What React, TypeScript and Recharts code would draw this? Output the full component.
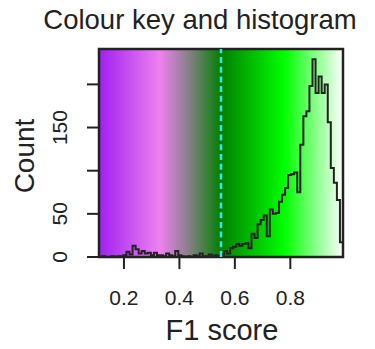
import { ComposedChart, Line, XAxis, YAxis, ReferenceArea, ReferenceLine } from "recharts";

// histogram counts, one per bin
const BIN_START = 0.11;
const BIN_WIDTH = 0.011;
const COUNTS = [
  0, 1, 0, 0, 1, 0, 1, 1, 2, 6,
  3, 13, 9, 4, 7, 4, 5, 2, 5, 2,
  2, 1, 4, 2, 1, 7, 2, 1, 0, 1,
  0, 2, 1, 4, 1, 1, 3, 1, 2, 1,
  3, 7, 4, 10, 12, 15, 13, 15, 16, 10,
  27, 22, 38, 43, 48, 24, 55, 50, 51, 64,
  72, 80, 95, 96, 98, 75, 130, 163, 169, 198,
  229, 190, 209, 190, 200, 156, 103, 86, 66, 17,
];
const X_TICKS = [0.2, 0.4, 0.6, 0.8];
const Y_TICKS = [0, 50, 100, 150, 200];
const Y_LABELLED = [0, 50, 150];
const THRESHOLD = 0.55;
const X_MIN = 0.11;
const X_MAX = 0.99;
const Y_MAX = 241;

// colour key stops (offset along the key, colour)
const KEY_STOPS: [number, string][] = [
  [0, "#A020F0"],
  [0.25, "#EE82EE"],
  [0.375, "#808080"],
  [0.5, "#008000"],
  [0.76, "#00FF00"],
  [1, "#FFFFFF"],
];

const FONT = "'Liberation Sans', Arial, sans-serif";
const INK = "#222";

const data = COUNTS.map((c, i) => ({ x: +(BIN_START + i * BIN_WIDTH).toFixed(4), count: c }));
data.push({ x: X_MAX, count: COUNTS[COUNTS.length - 1] });

const XTick = ({ x, payload }: any) => (
  <text x={x} y={305} textAnchor="middle" fontSize={21} fontFamily={FONT} fill={INK}>
    {payload.value}
  </text>
);

const YTick = ({ y, payload }: any) => {
  if (!Y_LABELLED.includes(payload.value)) return null;
  return (
    <text
      x={67}
      y={y}
      transform={`rotate(-90, 67, ${y})`}
      textAnchor="middle"
      fontSize={21}
      fontFamily={FONT}
      fill={INK}
    >
      {payload.value}
    </text>
  );
};

export default function App() {
  return (
    <div style={{ position: "absolute", left: 0, top: 0, width: 375, height: 349, background: "#fff" }}>
      <ComposedChart
        width={375}
        height={349}
        data={data}
        margin={{ top: 49, right: 32, bottom: 0, left: 0 }}
      >
        <defs>
          <linearGradient id="colorKey" x1="0" y1="0" x2="1" y2="0">
            {KEY_STOPS.map(([o, c]) => (
              <stop key={o} offset={o} stopColor={c} />
            ))}
          </linearGradient>
        </defs>
        <XAxis
          dataKey="x"
          type="number"
          domain={[X_MIN, X_MAX]}
          ticks={X_TICKS}
          tick={<XTick />}
          tickSize={12}
          tickLine={{ stroke: INK, strokeWidth: 2 }}
          axisLine={false}
          height={92}
          allowDataOverflow
        />
        <YAxis
          type="number"
          domain={[0, Y_MAX]}
          ticks={Y_TICKS}
          tick={<YTick />}
          tickSize={12}
          tickLine={{ stroke: INK, strokeWidth: 2 }}
          axisLine={false}
          width={99}
          allowDataOverflow
        />
        <ReferenceArea x1={X_MIN} x2={X_MAX} y1={0} y2={Y_MAX} fill="url(#colorKey)" fillOpacity={1} stroke="none" />
        <Line
          type="stepAfter"
          dataKey="count"
          stroke={INK}
          strokeWidth={2}
          dot={false}
          isAnimationActive={false}
        />
        <ReferenceLine x={THRESHOLD} stroke="#2EE8E8" strokeWidth={2.5} strokeDasharray="6 3.7" />
        <ReferenceArea x1={X_MIN} x2={X_MAX} y1={0} y2={Y_MAX} fill="none" stroke={INK} strokeWidth={2.5} />
      </ComposedChart>
      <svg width={375} height={349} style={{ position: "absolute", left: 0, top: 0, pointerEvents: "none" }}>
        <text x={200} y={29} textAnchor="middle" fontSize={27.5} fontFamily={FONT} fill={INK}>
          Colour key and histogram
        </text>
        <text x={222} y={340} textAnchor="middle" fontSize={29} fontFamily={FONT} fill={INK}>
          F1 score
        </text>
        <text
          x={34}
          y={156}
          transform="rotate(-90, 34, 156)"
          textAnchor="middle"
          fontSize={28}
          fontFamily={FONT}
          fill={INK}
        >
          Count
        </text>
      </svg>
    </div>
  );
}
